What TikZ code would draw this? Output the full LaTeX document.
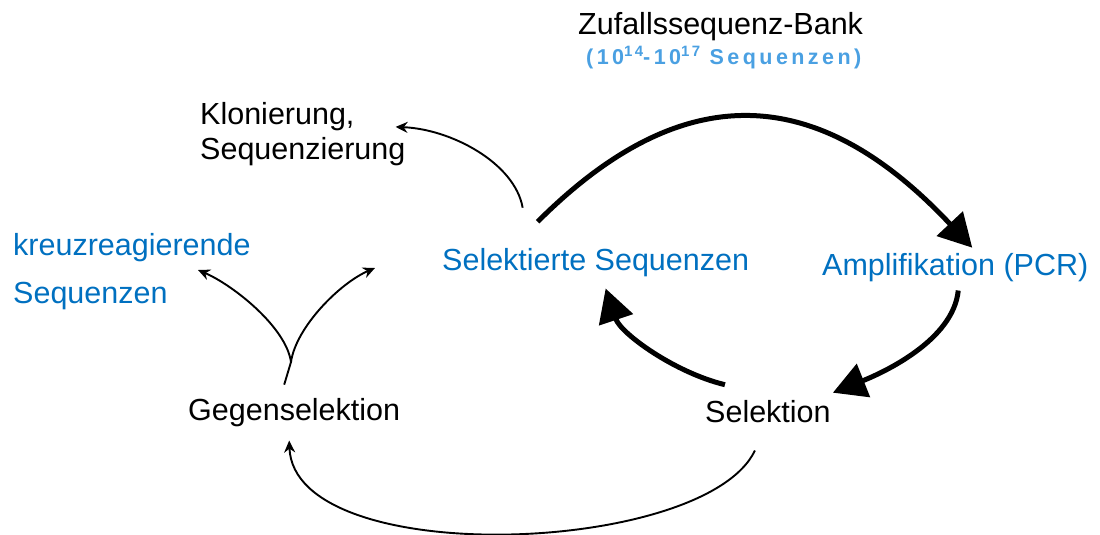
\documentclass[tikz,border=0pt]{standalone}
\usepackage{fontspec}
\setmainfont{Liberation Sans}
\newfontfamily\spacedfont[LetterSpace=16]{Liberation Sans}
\usetikzlibrary{arrows.meta,calc}
\definecolor{stepblue}{RGB}{0,112,192}
\definecolor{rangeblue}{RGB}{74,160,226}

\begin{document}
\begin{tikzpicture}[x=1pt,y=-1pt,
  every node/.style={inner sep=3pt,font=\fontsize{30.5}{35}\selectfont},
  bigarrow/.style={line width=5pt,-{Triangle[length=33pt,width=35pt]}},
  smallarrow/.style={line width=1.9pt,-{Stealth[length=12pt,width=11pt]}}]
\useasboundingbox (0,0) rectangle (1100,535);
% labels
\node[anchor=base west] (bank) at (575,35) {Zufallssequenz-Bank};
\node[anchor=base west,text=rangeblue,font=\fontsize{21.5}{24}\spacedfont\bfseries] (lib) at (583,65)
  {(10\raisebox{8pt}{\fontsize{15}{15}\selectfont 14}-10\raisebox{8pt}{\fontsize{15}{15}\selectfont 17} Sequenzen)};
\node[anchor=north west,align=left] (clone) at (197,99) {Klonierung,\\Sequenzierung};
\node[anchor=north west,align=left,text=stepblue,font=\fontsize{30.5}{48}\selectfont] (cross) at (10,230)
  {kreuzreagierende\\Sequenzen};
\node[anchor=base west,text=stepblue] (selseq) at (439,270) {Selektierte Sequenzen};
\node[anchor=base west,text=stepblue] (amp) at (819,275) {Amplifikation (PCR)};
\node[anchor=base west] (counter) at (185,420) {Gegenselektion};
\node[anchor=base west] (sel) at (702,422) {Selektion};
\coordinate (fork) at (291,362);
\coordinate (crosstip) at (198,270);
\coordinate (emptytip) at (375,268);
% cycle
\draw[bigarrow] ($(selseq.north)+(-58,-23)$) .. controls +(150,-150) and +(-150,-160) .. ($(amp.north)+(17,-2)$);
\draw[bigarrow] ($(amp.south)+(3,6)$) .. controls +(-5,50) and +(50,-20) .. ($(sel.north east)+(-1,-4)$);
\draw[bigarrow] ($(sel.north)+(-43,-12)$) .. controls +(-50,-12) and +(15,45) .. ($(selseq.south)+(10,9)$);
% side branches
\draw[smallarrow] ($(selseq.north)+(-73,-37)$) .. controls +(-8,-45) and +(55,2) .. ($(clone.east)+(-13,-7)$);
\draw[smallarrow] ($(sel.south)+(-13,25)$) .. controls +(-50,105) and +(5,130) .. ($(counter.south)+(-5,11)$);
\draw[line width=1.9pt] ($(counter.north)+(-10,-10)$) -- (fork);
\draw[smallarrow] (fork) .. controls +(-5,-35) and +(35,15) .. (crosstip);
\draw[smallarrow] (fork) .. controls +(5,-35) and +(-35,15) .. (emptytip);
\end{tikzpicture}
\end{document}
